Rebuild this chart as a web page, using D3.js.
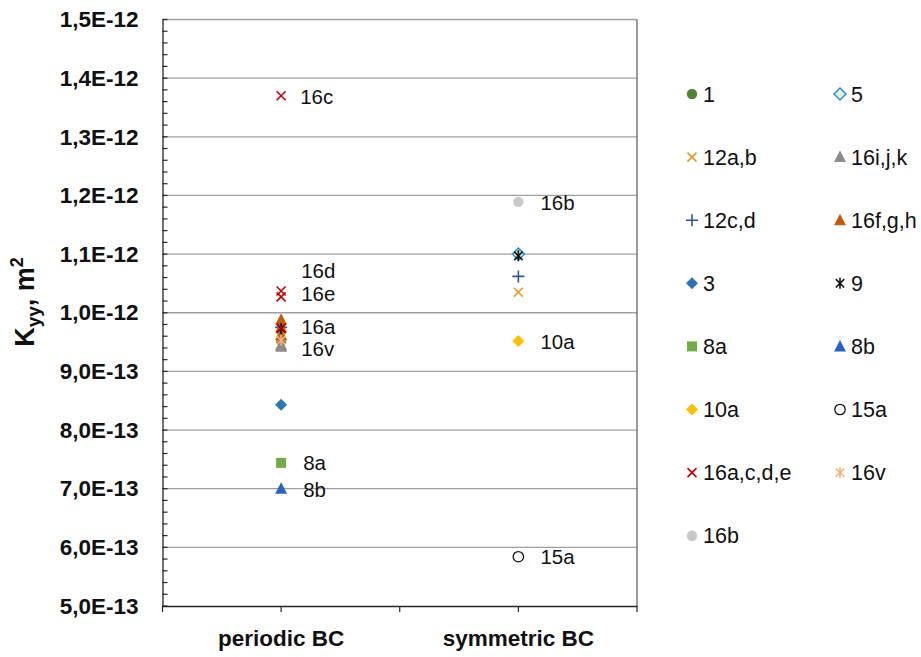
<!DOCTYPE html>
<html>
<head>
<meta charset="utf-8">
<script src="https://cdn.jsdelivr.net/npm/d3@7"></script>
<style>
  html, body { margin: 0; padding: 0; background: #ffffff; }
  svg { display: block; font-family: "Liberation Sans", Arial, sans-serif; }
</style>
</head>
<body>
<svg id="chart" width="921" height="657"></svg>
<script>
// Permeability K_yy by boundary condition type, one series per source case.
const categories = ["periodic BC", "symmetric BC"];

const seriesNames = ["1", "5", "12a,b", "16i,j,k", "12c,d", "16f,g,h", "3", "9",
                     "8a", "8b", "10a", "15a", "16a,c,d,e", "16v", "16b"];

// values in m², per series, for each boundary condition
const periodicValues = [
  [0.952e-12],                                   // 1
  [],                                            // 5
  [0.958e-12],                                   // 12a,b
  [0.945e-12, 0.942e-12],                        // 16i,j,k
  [0.975e-12],                                   // 12c,d
  [0.988e-12, 0.975e-12, 0.962e-12],             // 16f,g,h
  [0.843e-12],                                   // 3
  [0.973e-12],                                   // 9
  [0.744e-12],                                   // 8a
  [0.700e-12],                                   // 8b
  [],                                            // 10a
  [],                                            // 15a
  [0.974e-12, 1.370e-12, 1.037e-12, 1.027e-12],  // 16a,c,d,e
  [0.953e-12],                                   // 16v
  []                                             // 16b
];

const symmetricValues = [
  [],            // 1
  [1.100e-12],   // 5
  [1.035e-12],   // 12a,b
  [],            // 16i,j,k
  [1.062e-12],   // 12c,d
  [],            // 16f,g,h
  [],            // 3
  [1.097e-12],   // 9
  [],            // 8a
  [],            // 8b
  [0.952e-12],   // 10a
  [0.584e-12],   // 15a
  [],            // 16a,c,d,e
  [],            // 16v
  [1.189e-12]    // 16b
];

// point annotations: category, text, value of the annotated point
const annotationCats   = ["periodic BC", "periodic BC", "periodic BC", "periodic BC", "periodic BC", "periodic BC", "periodic BC",
                          "symmetric BC", "symmetric BC", "symmetric BC"];
const annotationTexts  = ["16c", "16d", "16e", "16a", "16v", "8a", "8b", "16b", "10a", "15a"];
const annotationValues = [1.370e-12, 1.037e-12, 1.027e-12, 0.974e-12, 0.953e-12, 0.744e-12, 0.700e-12,
                          1.189e-12, 0.952e-12, 0.584e-12];

const yTickValues = [0.5e-12, 0.6e-12, 0.7e-12, 0.8e-12, 0.9e-12, 1.0e-12, 1.1e-12, 1.2e-12, 1.3e-12, 1.4e-12, 1.5e-12];
const yTickLabels = ["5,0E-13", "6,0E-13", "7,0E-13", "8,0E-13", "9,0E-13", "1,0E-12",
                     "1,1E-12", "1,2E-12", "1,3E-12", "1,4E-12", "1,5E-12"];

// ---- styling ----
const markerStyle = {
  "1":         { shape: "circle",   fill: "#548235" },
  "5":         { shape: "diamond",  fill: "#E2EFDA", stroke: "#2E8FD6" },
  "12a,b":     { shape: "x",        stroke: "#E59A1F" },
  "16i,j,k":   { shape: "triangle", fill: "#8C8C8C" },
  "12c,d":     { shape: "plus",     stroke: "#2F5597" },
  "16f,g,h":   { shape: "triangle", fill: "#C55A11" },
  "3":         { shape: "diamond",  fill: "#2E75B6" },
  "9":         { shape: "star",     stroke: "#111111" },
  "8a":        { shape: "square",   fill: "#70AD47" },
  "8b":        { shape: "triangle", fill: "#2563C4" },
  "10a":       { shape: "diamond",  fill: "#FFC000" },
  "15a":       { shape: "circle",   fill: "#ffffff", stroke: "#111111" },
  "16a,c,d,e": { shape: "x",        stroke: "#C00000" },
  "16v":       { shape: "star",     stroke: "#F4B183" },
  "16b":       { shape: "circle",   fill: "#C9C9C9" }
};

const annotationOffsets = {   // [dx from category centre, dy from point]
  "16c": [19, 1], "16d": [20, -20], "16e": [20, -3], "16a": [20, -1], "16v": [20, 9],
  "8a": [22, 0], "8b": [22, 1], "16b": [22, 1], "10a": [22, 1], "15a": [22, 0]
};

const FONT = "'Liberation Sans', Arial, sans-serif";
const TXT = "#111111";

const svg = d3.select("#chart");
svg.append("rect").attr("width", 921).attr("height", 657).attr("fill", "#ffffff");

const plot = { left: 162.5, right: 637, top: 19.5, bottom: 606 };

const x = d3.scaleBand().domain(categories).range([plot.left, plot.right]).padding(0);
const y = d3.scaleLinear().domain([0.5e-12, 1.5e-12]).range([plot.bottom, plot.top]);
const xc = c => x(c) + x.bandwidth() / 2;

// gridlines
svg.append("g").selectAll("line").data(yTickValues.slice(1)).join("line")
  .attr("x1", plot.left).attr("x2", plot.right)
  .attr("y1", d => y(d)).attr("y2", d => y(d))
  .attr("stroke", "#A0A0A0").attr("stroke-width", 1.3);

// right border
svg.append("line")
  .attr("x1", plot.right).attr("x2", plot.right)
  .attr("y1", plot.top).attr("y2", plot.bottom)
  .attr("stroke", "#595959").attr("stroke-width", 1.2);

// y axis: major labels, inward minor ticks
const yAxis = d3.axisLeft(y)
  .tickValues(yTickValues)
  .tickFormat((d, i) => yTickLabels[i])
  .tickSize(0).tickPadding(24);
const gy = svg.append("g").attr("transform", `translate(${plot.left},0)`).call(yAxis);
gy.select(".domain").attr("stroke", "#262626").attr("stroke-width", 1.3);
gy.selectAll("text").attr("font-size", 22.5).attr("font-weight", "bold").attr("fill", TXT)
  .attr("font-family", FONT);

const minorTicks = d3.range(0, 51).map(i => 0.5e-12 + i * 0.02e-12);
svg.append("g").selectAll("line").data(minorTicks).join("line")
  .attr("x1", plot.left).attr("x2", plot.left + 5)
  .attr("y1", d => y(d)).attr("y2", d => y(d))
  .attr("stroke", "#262626").attr("stroke-width", 1.2);

// x axis
const xAxis = d3.axisBottom(x).tickSize(0).tickPadding(24);
const gx = svg.append("g").attr("transform", `translate(0,${plot.bottom})`).call(xAxis);
gx.select(".domain").attr("stroke", "#262626").attr("stroke-width", 1.3);
gx.selectAll("text").attr("font-size", 22.5).attr("font-weight", "bold").attr("fill", TXT)
  .attr("font-family", FONT);

const xTickPositions = [plot.left, ...categories.map(xc), x(categories[1]), plot.right];
svg.append("g").selectAll("line").data(xTickPositions).join("line")
  .attr("x1", d => d).attr("x2", d => d)
  .attr("y1", plot.bottom).attr("y2", plot.bottom + 6)
  .attr("stroke", "#262626").attr("stroke-width", 1.2);

// y axis title
const title = svg.append("text")
  .attr("transform", "translate(34,302) rotate(-90)")
  .attr("text-anchor", "middle")
  .attr("font-size", 27).attr("font-weight", "bold").attr("fill", TXT);
title.append("tspan").text("K");
title.append("tspan").attr("font-size", 19).attr("dy", 6).text("yy");
title.append("tspan").attr("dy", -6).text(", m");
title.append("tspan").attr("font-size", 18).attr("dy", -11).text("2");

// marker drawing
function drawMarker(g, style) {
  const sw = 1.6;
  switch (style.shape) {
    case "circle":
      g.append("circle").attr("r", 5.2)
        .attr("fill", style.fill).attr("stroke", style.stroke || "none").attr("stroke-width", 1.3);
      break;
    case "diamond":
      g.append("path").attr("d", "M0,-6L6,0L0,6L-6,0Z")
        .attr("fill", style.fill).attr("stroke", style.stroke || "none").attr("stroke-width", 1.5);
      break;
    case "triangle":
      g.append("path").attr("d", "M0,-6.5L6,5L-6,5Z").attr("fill", style.fill);
      break;
    case "square":
      g.append("rect").attr("x", -5).attr("y", -5).attr("width", 10).attr("height", 10).attr("fill", style.fill);
      break;
    case "x":
      g.append("path").attr("d", "M-4.5,-4.5L4.5,4.5M-4.5,4.5L4.5,-4.5")
        .attr("stroke", style.stroke).attr("stroke-width", sw).attr("fill", "none");
      break;
    case "plus":
      g.append("path").attr("d", "M-6,0L6,0M0,-6L0,6")
        .attr("stroke", style.stroke).attr("stroke-width", sw).attr("fill", "none");
      break;
    case "star":
      g.append("path").attr("d", "M-4.2,-4.2L4.2,4.2M-4.2,4.2L4.2,-4.2M0,-5.5L0,5.5")
        .attr("stroke", style.stroke).attr("stroke-width", sw).attr("fill", "none");
      break;
  }
}

// data points, drawn in series order
const points = [];
seriesNames.forEach((name, i) => {
  periodicValues[i].forEach(v => points.push({ name, cat: categories[0], v }));
  symmetricValues[i].forEach(v => points.push({ name, cat: categories[1], v }));
});

const gPts = svg.append("g");
points.forEach(p => {
  const g = gPts.append("g").attr("transform", `translate(${xc(p.cat)},${y(p.v)})`);
  drawMarker(g, markerStyle[p.name]);
});

// point annotations
const gAnn = svg.append("g");
annotationTexts.forEach((t, i) => {
  const off = annotationOffsets[t];
  gAnn.append("text")
    .attr("x", xc(annotationCats[i]) + off[0])
    .attr("y", y(annotationValues[i]) + off[1])
    .attr("dy", "0.35em")
    .attr("font-size", 20.5).attr("fill", TXT)
    .text(t);
});

// legend, two columns filled row by row
const legend = svg.append("g");
const legCols = [692, 840];
const legRow0 = 94, legRowStep = 63.1;
seriesNames.forEach((name, i) => {
  const cx = legCols[i % 2];
  const cy = legRow0 + Math.floor(i / 2) * legRowStep;
  const g = legend.append("g").attr("transform", `translate(${cx},${cy})`);
  drawMarker(g, markerStyle[name]);
  legend.append("text")
    .attr("x", cx + 11).attr("y", cy).attr("dy", "0.35em")
    .attr("font-size", 21.5).attr("fill", TXT)
    .text(name);
});
</script>
</body>
</html>
